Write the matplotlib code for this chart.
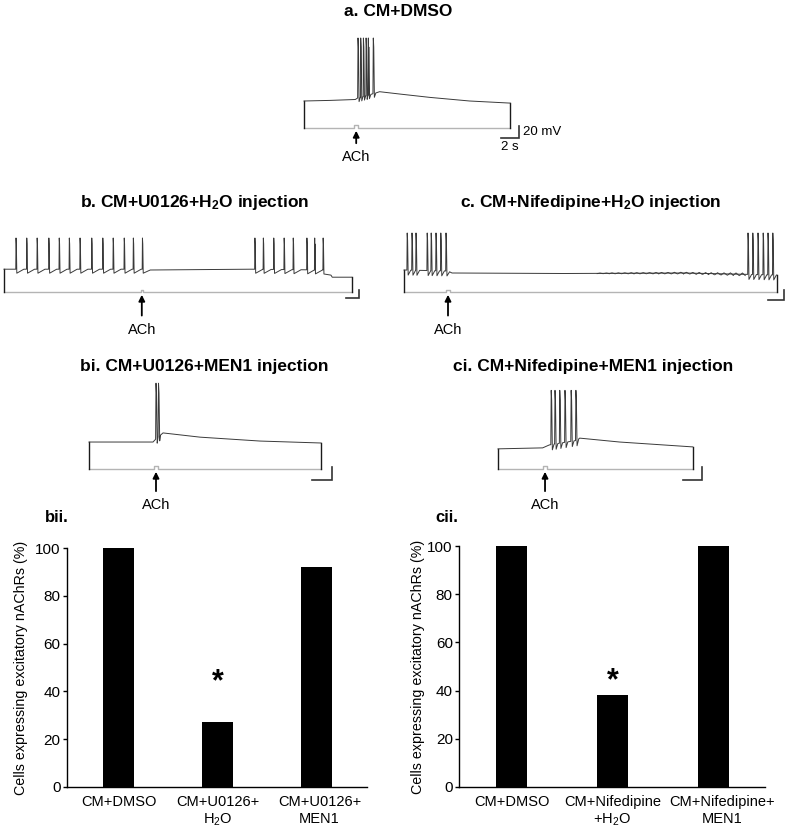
import numpy as np
import matplotlib
matplotlib.use("Agg")
import matplotlib.pyplot as plt
from matplotlib.transforms import ScaledTranslation

plt.rcParams["font.family"] = ["Liberation Sans", "DejaVu Sans"]
plt.rcParams["mathtext.default"] = "regular"

# ==============================
# DATA (time in s, voltage in mV above the command line)
# ==============================
a_dur = 22.9
a_base_t = [0, 2.9, 5.7, 6.0, 7.9, 8.4, 10.7, 14.0, 18.4, 22.9]
a_base_v = [45, 46, 47.5, 50, 58, 60.5, 56.5, 51, 45, 41.5]
a_spikes = [6.0, 6.3, 6.6, 6.9, 7.15, 7.7]
a_peak = 150
a_ach = 5.6

b_dur = 53.5
b_base_t = [0, 21.4, 22.5, 38.0, 49.3, 50.0, 50.5, 53.5]
b_base_v = [57, 57, 55, 57, 55, 50, 37, 37]
b_spikes = [1.85, 3.5, 5.1, 6.9, 8.5, 10.05, 11.7, 13.5, 15.2, 16.8, 18.5, 19.9, 21.3,
            38.6, 39.9, 41.5, 43.1, 44.5, 46.6, 47.8, 49.1]
b_peak = 135
b_ach = 21.0

c_dur = 46.6
c_base_t = [0, 5.5, 6.0, 20.0, 35.0, 46.6]
c_base_v = [44, 42, 38, 37, 38, 34]
c_spikes = [0.4, 1.0, 1.5, 2.9, 3.4, 4.0, 4.6, 5.25, 43.0, 43.6, 44.25, 44.9, 45.5, 46.1]
c_peak = 118
c_ach = 5.3
c_ripple_t = [24.5, 25.3, 26.0, 26.8, 27.6, 28.4, 29.1, 29.9, 30.7, 31.5, 32.2, 33.0,
              33.8, 34.6, 35.3, 36.1, 36.9, 37.7, 38.4, 39.2, 40.0, 40.8, 41.5, 42.3]
c_ripple_a = [1, 1, 1.5, 1.5, 1.5, 2, 2, 2, 2, 2.5, 2.5, 2.5,
              3, 3, 3, 3, 3.5, 3.5, 3.5, 4, 4, 4.5, 4.5, 5]

bi_dur = 23.2
bi_base_t = [0, 6.4, 7.0, 7.4, 11.1, 17.1, 23.2]
bi_base_v = [41.5, 41.5, 50, 55.5, 49, 43, 40]
bi_spikes = [6.7, 6.95]
bi_peak = 132
bi_ach = 6.5

ci_dur = 20.5
ci_base_t = [0, 4.7, 5.4, 8.3, 8.6, 12.8, 20.5]
ci_base_v = [31, 32.5, 37, 44, 47.5, 41.5, 34]
ci_spikes = [5.6, 6.0, 6.5, 7.05, 7.7, 8.2]
ci_peak = 121
ci_ach = 4.75

bii_labels = ["CM+DMSO", "CM+U0126+\nH$_2$O", "CM+U0126+\nMEN1"]
bii_values = [100, 27, 92]
cii_labels = ["CM+DMSO", "CM+Nifedipine\n+H$_2$O", "CM+Nifedipine+\nMEN1"]
cii_values = [100, 38, 100]
ylabel = "Cells expressing excitatory nAChRs (%)"

# ==============================
# FIGURE
# ==============================
W, H = 788, 833
fig = plt.figure(figsize=(W / 100, H / 100), dpi=100)


def px_axes(l, t, r, b):
    return fig.add_axes([l / W, 1 - b / H, (r - l) / W, (b - t) / H])


def ftext(x, y, s, **kw):
    fig.text(x / W, 1 - y / H, s, **kw)


def build_trace(base_t, base_v, spikes, peak, ahp, rec):
    # one polyline: baseline keypoints + a glyph per spike
    pts = []
    for t, v in zip(base_t, base_v):
        if not any(ts - 0.05 <= t <= ts + rec for ts in spikes):
            pts.append((t, v))
    for ts in spikes:
        v0 = np.interp(ts, base_t, base_v)
        v1 = np.interp(ts + rec, base_t, base_v)
        pts += [(ts - 0.04, v0), (ts, peak), (ts + 0.05, peak - 15),
                (ts + 0.12, v0 - ahp), (ts + rec, v1)]
    pts.sort()
    return [p[0] for p in pts], [p[1] for p in pts]


def trace_panel(origin, px_s, px_mv, box, dur, base_t, base_v, spikes, peak, ach,
                ach_drop, bar_corner, ahp=8, rec=0.6, pulse=4):
    x0, y0 = origin
    l, t, r, b = box
    ax = px_axes(l, t, r, b)
    ax.set_xlim((l - x0) / px_s, (r - x0) / px_s)
    ax.set_ylim((y0 - b) / px_mv, (y0 - t) / px_mv)
    ax.axis("off")

    # command line with ACh pulse
    w = 0.4
    ax.plot([0, ach, ach, ach + w, ach + w, dur], [0, 0, pulse, pulse, 0, 0],
            color="#b4b4b4", lw=1.0)
    # membrane potential
    tt, vv = build_trace(base_t, base_v, spikes, peak, ahp, rec)
    ax.plot([0, 0], [0, base_v[0]], color="#1a1a1a", lw=1.0)
    ax.plot([dur, dur], [0, base_v[-1]], color="#1a1a1a", lw=1.0)
    ax.plot(tt, vv, color="#3a3a3a", lw=0.7)

    # arrow + label
    ax.annotate("ACh", xy=(ach + w / 2, 0), xytext=(0, -ach_drop),
                textcoords="offset points", ha="center", va="center",
                fontsize=10.5,
                arrowprops=dict(arrowstyle="-|>", color="black", lw=1.3,
                                mutation_scale=9, shrinkA=3, shrinkB=2))

    # scale bar (2 s, 20 mV)
    sx, sy = bar_corner
    ax.plot([sx - 2, sx, sx], [sy, sy, sy + 20], color="#333333", lw=1.2,
            solid_joinstyle="miter")
    return ax


ax_a = trace_panel((304, 128), 9, 0.6, (290, 30, 560, 170), a_dur, a_base_t, a_base_v,
                   a_spikes, a_peak, a_ach, 21, (23.9, -16.7), ahp=6, rec=0.28, pulse=5)
ax_a.text(24.35, -6.7, "20 mV", fontsize=9.5, ha="left", va="center")
ax_a.text(22.9, -31.5, "2 s", fontsize=9.5, ha="center", va="center")

trace_panel((4, 292), 6.5, 0.4, (0, 225, 395, 345), b_dur, b_base_t, b_base_v,
            b_spikes, b_peak, b_ach, 27, (54.6, -15), ahp=10, rec=1.2, pulse=6)

ax_c = trace_panel((404, 292), 8, 0.5, (398, 225, 788, 345), c_dur, c_base_t, c_base_v,
                   c_spikes, c_peak, c_ach, 27, (47.5, -16), ahp=10, rec=0.45, pulse=5)
for tr, amp in zip(c_ripple_t, c_ripple_a):
    v0 = np.interp(tr, c_base_t, c_base_v)
    ax_c.plot([tr - 0.35, tr, tr + 0.35], [v0 - amp / 2, v0 + amp / 2, v0 - amp / 2],
              color="#3a3a3a", lw=0.7)

trace_panel((89, 469), 10, 0.65, (80, 375, 360, 515), bi_dur, bi_base_t, bi_base_v,
            bi_spikes, bi_peak, bi_ach, 26, (24.3, -16.9), ahp=6, rec=0.2, pulse=5)

trace_panel((498, 469), 9.5, 0.65, (490, 375, 730, 515), ci_dur, ci_base_t, ci_base_v,
            ci_spikes, ci_peak, ci_ach, 26, (21.5, -16.9), ahp=8, rec=0.3, pulse=5)

# titles
tkw = dict(fontsize=12.5, fontweight="bold", ha="center", va="center")
ftext(398, 12, "a. CM+DMSO", **tkw)
ftext(195, 203, "b. CM+U0126+H$_2$O injection", **tkw)
ftext(591, 203, "c. CM+Nifedipine+H$_2$O injection", **tkw)
ftext(204, 367, "bi. CM+U0126+MEN1 injection", **tkw)
ftext(593, 367, "ci. CM+Nifedipine+MEN1 injection", **tkw)


# ==============================
# BAR CHARTS
# ==============================
def bar_panel(box, labels, values, letter, letter_x, label_x, last_shift):
    ax = px_axes(*box)
    x = np.arange(len(values))
    ax.bar(x, values, width=0.31, color="black")
    ax.set_xlim(-0.52, 2.51)
    ax.set_ylim(0, 100)
    ax.set_yticks([0, 20, 40, 60, 80, 100])
    ax.set_xticks(x)
    ax.set_xticklabels(labels, fontsize=10.5, linespacing=1.2)
    ax.tick_params(axis="x", length=0, pad=6)
    ax.tick_params(axis="y", length=3, width=1, pad=1.5, labelsize=11)
    lab = ax.get_xticklabels()[-1]
    lab.set_transform(lab.get_transform() + ScaledTranslation(last_shift / 100, 0, fig.dpi_scale_trans))
    for s in ["top", "right"]:
        ax.spines[s].set_visible(False)
    for s in ["left", "bottom"]:
        ax.spines[s].set_linewidth(1.0)
    ax.set_ylabel(ylabel, fontsize=10.3)
    ax.yaxis.set_label_coords(label_x, 0.5)
    ax.text(1, 44, "*", fontsize=22, fontweight="bold", ha="center", va="center")
    ftext(letter_x, 517, letter, fontsize=12, fontweight="bold", ha="left", va="center")
    return ax


bar_panel((67, 548, 367, 787), bii_labels, bii_values, "bii.", 45, -0.13, 3)
bar_panel((459, 546, 765, 787), cii_labels, cii_values, "cii.", 435, -0.11, 9)

fig.savefig("out.png", dpi=100)
